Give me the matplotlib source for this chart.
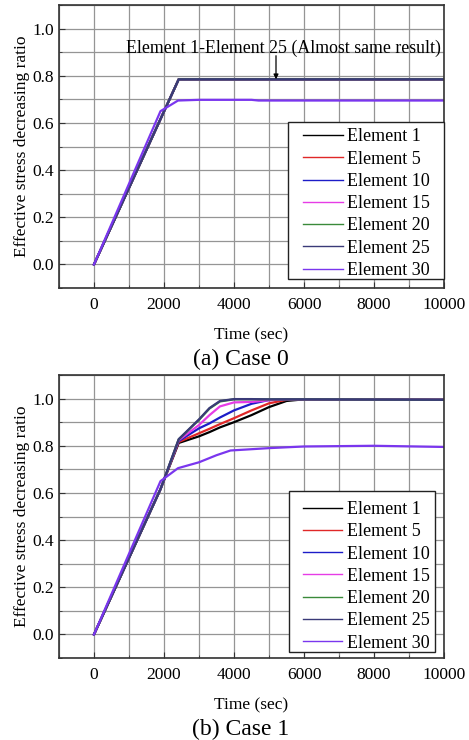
import matplotlib
matplotlib.use("Agg")
import matplotlib.pyplot as plt
from matplotlib.ticker import MultipleLocator, FormatStrFormatter
from matplotlib.patches import Rectangle

plt.rcParams['font.family'] = ['Liberation Serif', 'DejaVu Serif']

# ---- data ----
labels = ["Element 1", "Element 5", "Element 10", "Element 15",
          "Element 20", "Element 25", "Element 30"]
colors = ["#000000", "#e02828", "#1c1cc8", "#e63ce6",
          "#3a8a3a", "#3a3a78", "#7a36ee"]

# Case 0
c0_time = [0, 2420, 10000]
c0_e1 = [0, 0.785, 0.785]
c0_e5 = [0, 0.785, 0.785]
c0_e10 = [0, 0.785, 0.785]
c0_e15 = [0, 0.785, 0.785]
c0_e20 = [0, 0.785, 0.785]
c0_e25 = [0, 0.785, 0.785]
c0_e30_time = [0, 1900, 2400, 3000, 4500, 4700, 10000]
c0_e30 = [0, 0.65, 0.695, 0.698, 0.698, 0.695, 0.695]

# Case 1
c1_time = [0, 1900, 2420, 3000, 3300, 3600, 4000, 4500, 5000, 5500, 6000, 10000]
c1_e1 = [0, 0.616, 0.812, 0.840, 0.858, 0.878, 0.900, 0.930, 0.964, 0.990, 0.997, 0.995]
c1_e5 = [0, 0.616, 0.816, 0.853, 0.872, 0.892, 0.917, 0.950, 0.980, 0.995, 0.997, 0.995]
c1_e10 = [0, 0.616, 0.820, 0.874, 0.895, 0.920, 0.950, 0.978, 0.994, 0.997, 0.997, 0.995]
c1_e15 = [0, 0.616, 0.824, 0.888, 0.930, 0.967, 0.984, 0.986, 0.993, 0.997, 0.997, 0.995]
c1_e20 = [0, 0.616, 0.827, 0.910, 0.958, 0.988, 0.997, 0.997, 0.997, 0.997, 0.997, 0.995]
c1_e25 = [0, 0.616, 0.828, 0.912, 0.960, 0.990, 0.998, 0.998, 0.997, 0.997, 0.997, 0.995]
c1_e30_time = [0, 1900, 2400, 3000, 3500, 3900, 5000, 6000, 8000, 10000]
c1_e30 = [0, 0.650, 0.705, 0.730, 0.760, 0.780, 0.790, 0.797, 0.800, 0.795]

case0 = [(c0_time, c0_e1), (c0_time, c0_e5), (c0_time, c0_e10), (c0_time, c0_e15),
         (c0_time, c0_e20), (c0_time, c0_e25), (c0_e30_time, c0_e30)]
case1 = [(c1_time, c1_e1), (c1_time, c1_e5), (c1_time, c1_e10), (c1_time, c1_e15),
         (c1_time, c1_e20), (c1_time, c1_e25), (c1_e30_time, c1_e30)]

fig = plt.figure(figsize=(4.69, 7.40), dpi=100)
ax_a = fig.add_axes([0.1258, 0.6108, 0.8209, 0.3824])
ax_b = fig.add_axes([0.1258, 0.1108, 0.8209, 0.3824])


def style_axes(ax):
    ax.set_xlim(-1000, 10000)
    ax.set_ylim(-0.1, 1.1)
    ax.xaxis.set_minor_locator(MultipleLocator(1000))
    ax.yaxis.set_minor_locator(MultipleLocator(0.1))
    ax.set_xticks([0, 2000, 4000, 6000, 8000, 10000])
    ax.set_yticks([0.0, 0.2, 0.4, 0.6, 0.8, 1.0])
    ax.yaxis.set_major_formatter(FormatStrFormatter('%.1f'))
    ax.grid(True, which='both', color='#959595', linewidth=0.9)
    ax.set_axisbelow(True)
    ax.tick_params(which='both', direction='in', labelsize=12.5, color='#333333')
    ax.tick_params(axis='x', which='major', pad=6.5)
    ax.tick_params(which='major', length=4)
    ax.tick_params(which='minor', length=2.5)
    for s in ax.spines.values():
        s.set_linewidth(1.2)
        s.set_color('#333333')
    ax.set_xlabel("Time (sec)", fontsize=12.5, labelpad=10)
    ax.set_ylabel("Effective stress decreasing ratio", fontsize=12.5, labelpad=1.5)


for ax, data in ((ax_a, case0), (ax_b, case1)):
    for (t, y), lab, col in zip(data, labels, colors):
        ax.plot(t, y, color=col, linewidth=1.6, label=lab)
    style_axes(ax)

# legend frames (white boxes over the grid) and legends on top of them
frames = {ax_a: (0.595, 0.032, 0.405, 0.555), ax_b: (0.597, 0.021, 0.380, 0.569)}
anchors = {ax_a: (0.634, 0.564), ax_b: (0.633, 0.5545)}
for ax in (ax_a, ax_b):
    x0, y0, w, h = frames[ax]
    ax.add_patch(Rectangle((x0, y0), w, h, transform=ax.transAxes,
                           facecolor='white', edgecolor='#222222',
                           linewidth=1.0, zorder=4, clip_on=False))
    leg = ax.legend(loc='upper left', bbox_to_anchor=anchors[ax],
                    fontsize=13, frameon=False, handlelength=2.2,
                    handletextpad=0.25, labelspacing=0.29, borderpad=0,
                    borderaxespad=0)
    leg.set_zorder(5)
    for hl in leg.get_lines():
        hl.set_linewidth(1.0)

# note and arrow pointing at the common plateau of elements 1-25
ax_a.text(5400, 0.915, "Element 1-Element 25 (Almost same result)",
          ha='center', va='center', fontsize=12.8)
ax_a.annotate("", xy=(5200, 0.785), xytext=(5200, 0.885),
              arrowprops=dict(arrowstyle='-|>', color='black', lw=0.9,
                              mutation_scale=7, shrinkA=0, shrinkB=0))

fig.text(0.514, 1 - 359 / 740, "(a) Case 0", ha='center', va='center', fontsize=17)
fig.text(0.514, 1 - 729 / 740, "(b) Case 1", ha='center', va='center', fontsize=17)

fig.savefig("out.png", dpi=100)
